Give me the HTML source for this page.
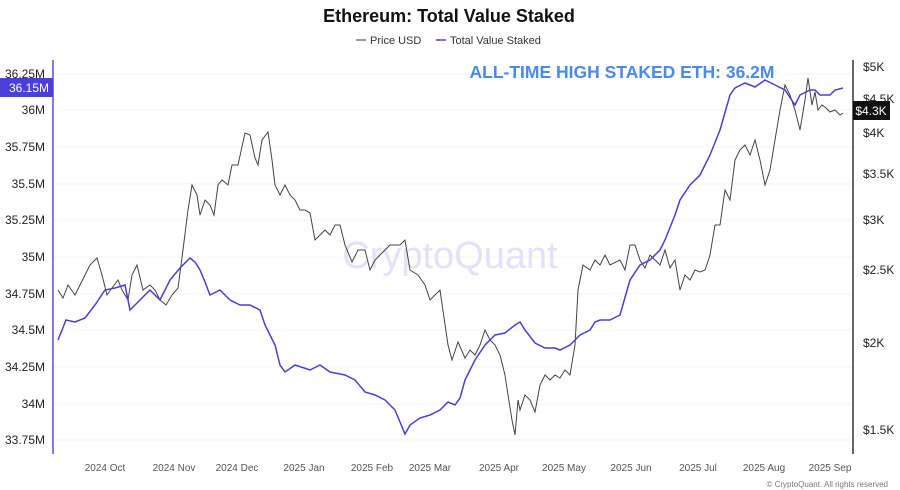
<!DOCTYPE html>
<html><head><meta charset="utf-8"><style>
html,body{margin:0;padding:0;background:#fff;}
svg{display:block;font-family:"Liberation Sans",sans-serif;}
</style></head><body>
<svg width="900" height="490" viewBox="0 0 900 490">
<text x="449" y="22" text-anchor="middle" font-size="18" font-weight="bold" fill="#111">Ethereum: Total Value Staked</text>
<line x1="356" y1="40" x2="366" y2="40" stroke="#333" stroke-width="1"/>
<text x="370" y="44" font-size="11" fill="#333">Price USD</text>
<line x1="436" y1="40" x2="446" y2="40" stroke="#4a3fd0" stroke-width="1.5"/>
<text x="450" y="44" font-size="11" fill="#333">Total Value Staked</text>
<g stroke="#f3f3f3" stroke-width="1">
<line x1="53" y1="74" x2="853" y2="74"/><line x1="53" y1="110" x2="853" y2="110"/><line x1="53" y1="147" x2="853" y2="147"/><line x1="53" y1="184" x2="853" y2="184"/><line x1="53" y1="220" x2="853" y2="220"/><line x1="53" y1="257" x2="853" y2="257"/><line x1="53" y1="294" x2="853" y2="294"/><line x1="53" y1="330" x2="853" y2="330"/><line x1="53" y1="367" x2="853" y2="367"/><line x1="53" y1="404" x2="853" y2="404"/><line x1="53" y1="440" x2="853" y2="440"/>
</g>
<text x="450" y="268" text-anchor="middle" font-size="38" fill="#e4e2f6">CryptoQuant</text>
<line x1="53" y1="60" x2="53" y2="454" stroke="#5a4fd8" stroke-width="1.5"/>
<line x1="853" y1="60" x2="853" y2="454" stroke="#333" stroke-width="1.5"/>
<g font-size="12" fill="#222" text-anchor="end">
<text x="45" y="78">36.25M</text><text x="45" y="114">36M</text><text x="45" y="151">35.75M</text><text x="45" y="188">35.5M</text><text x="45" y="224">35.25M</text><text x="45" y="261">35M</text><text x="45" y="298">34.75M</text><text x="45" y="334">34.5M</text><text x="45" y="371">34.25M</text><text x="45" y="408">34M</text><text x="45" y="444">33.75M</text>
</g>
<rect x="0" y="78" width="53" height="19" fill="#4a3fd8"/>
<text x="49" y="92" text-anchor="end" font-size="12" fill="#fff">36.15M</text>
<g font-size="12" fill="#222">
<text x="863" y="71">$5K</text><text x="863" y="103">$4.5K</text><text x="863" y="137">$4K</text><text x="863" y="178">$3.5K</text><text x="863" y="224">$3K</text><text x="863" y="274">$2.5K</text><text x="863" y="347">$2K</text><text x="863" y="434">$1.5K</text>
</g>
<rect x="853" y="101" width="37" height="19" fill="#111"/>
<text x="871" y="115" text-anchor="middle" font-size="12" fill="#fff">$4.3K</text>
<g font-size="10" fill="#555" text-anchor="middle">
<text x="105" y="471">2024 Oct</text><text x="174" y="471">2024 Nov</text><text x="237" y="471">2024 Dec</text><text x="304" y="471">2025 Jan</text><text x="372" y="471">2025 Feb</text><text x="430" y="471">2025 Mar</text><text x="499" y="471">2025 Apr</text><text x="564" y="471">2025 May</text><text x="631" y="471">2025 Jun</text><text x="698" y="471">2025 Jul</text><text x="764" y="471">2025 Aug</text><text x="830" y="471">2025 Sep</text>
</g>
<text x="888" y="487" text-anchor="end" font-size="8" fill="#777">© CryptoQuant. All rights reserved</text>
<text x="622" y="78" text-anchor="middle" font-size="17.5" font-weight="bold" fill="#4a8ae8">ALL-TIME HIGH STAKED ETH: 36.2M</text>
<polyline fill="none" stroke="#444" stroke-width="1" points="58,290 63,298 68,285 75,295 80,285 90,265 97,258 102,275 107,295 112,288 118,280 122,290 128,300 132,275 137,265 143,290 150,285 155,290 160,300 166,305 172,295 178,288 183,250 188,210 192,185 197,195 200,215 205,200 210,205 214,215 218,185 222,180 228,185 232,165 238,165 245,133 250,135 255,158 258,165 262,140 268,132 272,160 275,185 280,195 285,185 290,195 295,200 300,210 305,210 310,213 315,240 320,235 325,230 330,235 335,225 340,225 345,245 352,262 358,250 365,250 370,270 375,260 380,255 385,250 390,245 395,245 400,245 405,240 410,270 418,275 425,285 430,300 440,290 448,345 452,360 458,342 465,358 470,350 475,355 480,345 485,330 490,340 495,345 500,355 505,375 508,395 512,420 515,435 518,400 520,410 525,395 530,400 535,412 540,385 545,375 550,380 555,375 560,378 565,370 570,375 575,345 578,290 583,265 590,270 595,260 600,265 605,255 610,265 620,260 625,270 630,245 635,245 640,260 645,268 650,255 655,260 660,265 665,250 670,268 675,260 680,290 685,275 690,280 695,270 700,272 705,270 710,255 715,225 720,225 725,190 730,200 735,160 740,150 745,145 750,155 755,140 760,160 765,185 770,170 775,140 780,110 785,85 790,95 795,110 800,130 805,100 808,78 812,105 815,92 818,110 822,105 826,108 830,112 835,110 840,115 843,113"/>
<polyline fill="none" stroke="#4a3fd0" stroke-width="1.5" points="58,340 62,330 66,320 75,322 85,318 95,305 105,290 115,288 125,285 130,310 140,300 150,290 160,300 170,280 180,268 190,258 195,262 200,270 205,282 210,295 220,290 230,300 240,305 250,305 260,310 265,325 275,345 280,365 285,372 295,365 310,370 320,365 330,372 345,375 355,380 365,392 375,395 385,400 395,410 405,434 410,425 420,418 430,415 440,410 448,402 455,405 460,398 465,380 475,360 485,345 495,335 505,333 515,325 520,322 525,330 535,343 545,348 555,348 560,350 570,345 575,340 580,335 590,330 595,322 600,320 610,320 620,315 630,280 640,265 650,260 660,250 665,240 675,215 680,200 690,185 700,175 710,155 720,130 730,95 735,88 745,83 755,87 765,80 775,85 785,90 795,105 800,95 810,90 815,90 820,95 830,95 835,90 843,88"/>
</svg>
</body></html>
